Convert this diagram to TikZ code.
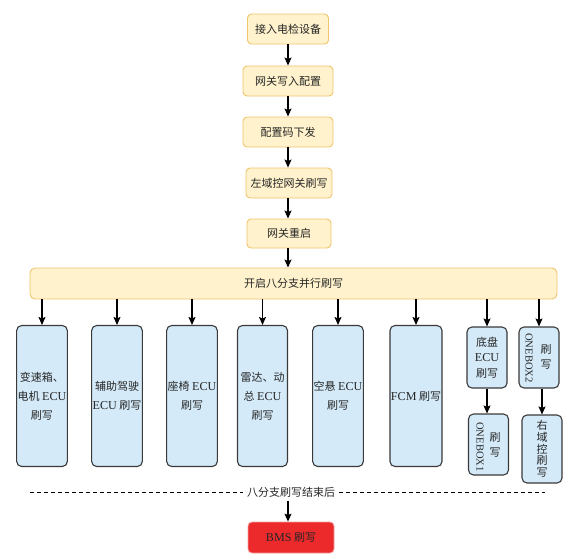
\documentclass[tikz,border=0pt]{standalone}
\usepackage{fontspec}
\setmainfont{Noto Sans CJK SC}
\newfontfamily\latinfont[Scale=1.1]{Liberation Serif}
\newcommand{\eng}[1]{{\latinfont #1}}
\usepackage{tikz}
\usetikzlibrary{arrows.meta,positioning,calc}

\definecolor{stepFill}{HTML}{FFF2CC}
\definecolor{stepLine}{HTML}{EEC46C}
\definecolor{ecuFill}{HTML}{D4EAF8}
\definecolor{ecuLine}{HTML}{3A3A3A}
\definecolor{bmsFill}{HTML}{EC2A2B}
\definecolor{bmsLine}{HTML}{F2A0A0}

\begin{document}
\begin{tikzpicture}[
    x=1pt, y=-1pt,
    font=\fontsize{11}{15}\selectfont,
    stepbox/.style={
        draw=stepLine,
        fill=stepFill,
        line width=0.9pt,
        rounded corners=4pt,
        align=center,
        minimum height=30pt,
        inner sep=2pt,
        text=black!85
    },
    ecu/.style={
        draw=ecuLine,
        fill=ecuFill,
        line width=1.1pt,
        rounded corners=5pt,
        align=center,
        inner sep=1pt,
        text=black!85
    },
    tall/.style={ecu, minimum width=50pt, minimum height=141pt,
        font=\fontsize{11}{19}\selectfont},
    small/.style={ecu, minimum width=40pt, minimum height=61pt},
    upright/.style={rotate=-90, inner sep=0pt, text=black!85,
        font=\fontsize{9.6}{12}\selectfont},
    flow/.style={-{Stealth[length=8pt,width=7pt,inset=1.5pt]}, line width=1.1pt}
]

\useasboundingbox (0,0) rectangle (578,558);

% preparation chain
\node[stepbox, minimum width=81pt] (access) at (288,29) {接入电检设备};
\node[stepbox, minimum width=90pt] (gwConfig) at (288,81) {网关写入配置};
\node[stepbox, minimum width=90pt] (codeSend) at (288,132) {配置码下发};
\node[stepbox, minimum width=86pt] (leftGw) at (289,183) {左域控网关刷写};
\node[stepbox, minimum width=84pt, minimum height=29pt] (gwReboot) at (289,233.5) {网关重启};
\node[stepbox, minimum width=527pt, minimum height=31pt, rounded corners=5pt] (parallel) at (293.5,283.5) {开启八分支并行刷写};

% eight branches
\node[tall] (gearbox) at (42,396) {变速箱、\\电机 \eng{ECU}\\刷写};
\node[tall] (adas) at (117,396) {辅助驾驶\\\eng{ECU} 刷写};
\node[tall] (seat) at (192,396) {座椅 \eng{ECU}\\刷写};
\node[tall] (radar) at (262.5,396) {雷达、动\\总 \eng{ECU}\\刷写};
\node[tall] (suspension) at (338,396) {空悬 \eng{ECU}\\刷写};
\node[tall] (fcm) at (416,396) {\eng{FCM} 刷写};

\node[small, font=\fontsize{11}{15.5}\selectfont] (chassis) at (487,357.5) {底盘\\\eng{ECU}\\刷写};
\node[small] (oneboxTwo) at (539,357.5) {};
\node[upright] (oneboxTwoName) at (529,358) {\eng{ONEBOX2}};
\node[align=center, inner sep=0pt, text=black!85, font=\fontsize{11}{15.5}\selectfont] (oneboxTwoWrite) at (546,357) {刷\\写};

\node[small] (oneboxOne) at (488.5,444.5) {};
\node[upright] (oneboxOneName) at (480,447) {\eng{ONEBOX1}};
\node[align=center, inner sep=0pt, text=black!85, font=\fontsize{11}{15.5}\selectfont] (oneboxOneWrite) at (495,445) {刷\\写};

\node[small, minimum height=68pt, font=\fontsize{11}{11.7}\selectfont] (rightDomain) at (542,449) {右\\域\\控\\刷\\写};

% end of branches
\node[fill=white, inner sep=4pt, text=black!85] (endNote) at (291,492) {八分支刷写结束后};
\coordinate (dashLeft) at (30,492);
\coordinate (dashRight) at (545,492);
\draw[dashed, line width=1pt, dash pattern=on 4pt off 3pt] (dashLeft) -- (endNote.west);
\draw[dashed, line width=1pt, dash pattern=on 4pt off 3pt] (endNote.east) -- (dashRight);

\node[draw=bmsLine, fill=bmsFill, line width=0.8pt, rounded corners=4pt,
      minimum width=86pt, minimum height=31pt, text=black!85] (bmsWrite) at (291,537.5) {\eng{BMS} 刷写};

\draw[flow] (access) -- (gwConfig);
\draw[flow] (gwConfig) -- (codeSend);
\draw[flow] (codeSend) -- (leftGw.north -| codeSend);
\draw[flow] (leftGw.south -| codeSend) -- (gwReboot.north -| codeSend);
\draw[flow] (gwReboot.south -| codeSend) -- (parallel.north -| codeSend);

\foreach \b in {gearbox,adas,seat,radar,suspension,fcm,chassis,oneboxTwo}
    \draw[flow] (\b.north |- parallel.south) -- (\b.north);

\draw[flow] (chassis) -- (oneboxOne.north -| chassis);
\draw[flow] (oneboxTwo.south -| rightDomain) -- (rightDomain);

\draw[flow] (endNote.south -| codeSend) -- (bmsWrite.north -| codeSend);

\end{tikzpicture}
\end{document}
